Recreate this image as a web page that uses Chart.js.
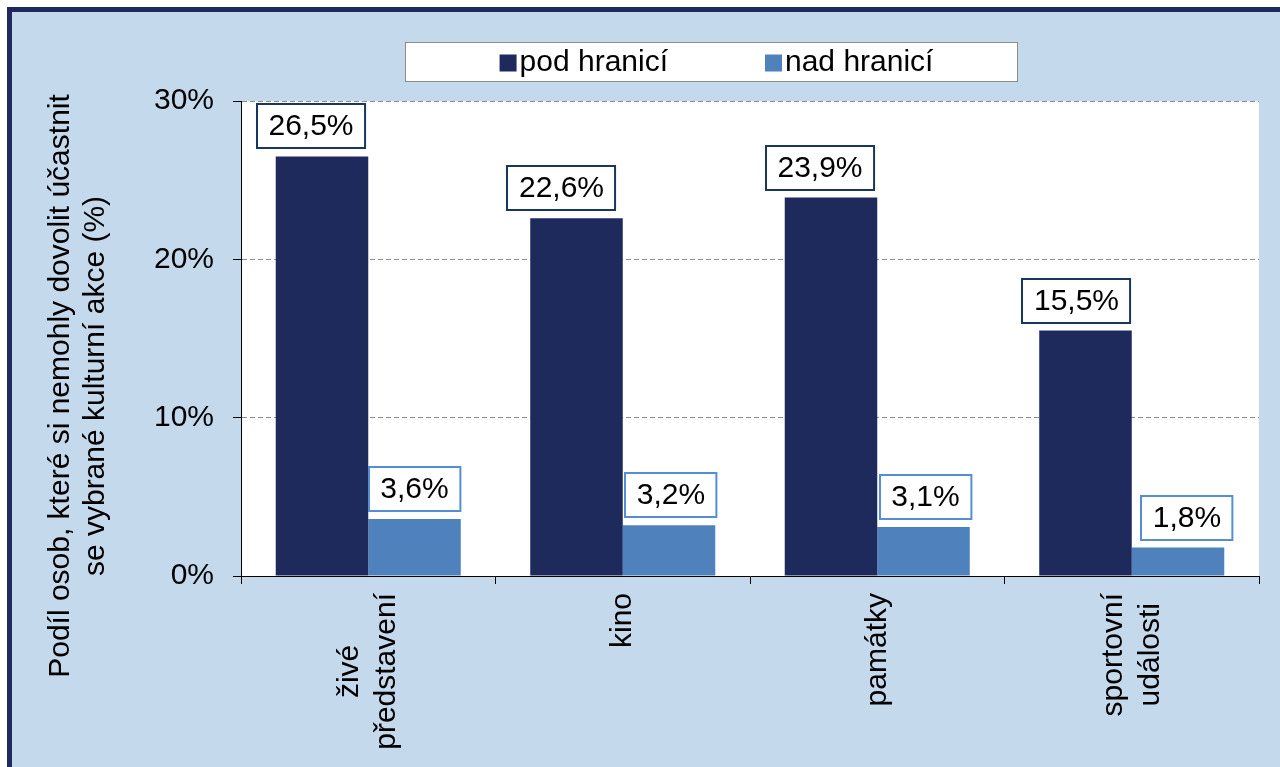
<!DOCTYPE html>
<html><head><meta charset="utf-8">
<script src="https://cdn.jsdelivr.net/npm/chart.js@4.4.1/dist/chart.umd.min.js"></script>
<style>
html,body{margin:0;padding:0;background:#fff;overflow:hidden;width:1280px;height:767px}
#frame{position:absolute;left:7px;top:7px;width:1400px;height:900px;border-left:5px solid #1F2A5C;border-top:5px solid #1F2A5C;background:#C5D9ED}
#c{position:absolute;left:0;top:0}
</style></head><body>
<div id="frame"></div>
<canvas id="c" width="1280" height="767"></canvas>
<script>
// ---- data ----
const categories = [["živé", "představení"], ["kino"], ["památky"], ["sportovní", "události"]];
const seriesNames = ["pod hranicí", "nad hranicí"];
const podHranici = [26.5, 22.6, 23.9, 15.5];
const nadHranici = [3.6, 3.2, 3.1, 1.8];
const yMin = 0, yMax = 30, yStep = 10;
const yTitle = ["Podíl osob, které si nemohly dovolit účastnit", "se vybrané kulturní akce (%)"];

const FONT = "'Liberation Sans', Arial, sans-serif";
const colors = ["#1F2A5C", "#4F81BD"];
const labelBorders = ["#17375E", "#558ED5"];

const fmt = v => v.toFixed(1).replace('.', ',') + '%';

const bgPlugin = {
  id: 'bg',
  beforeDraw(chart) {
    const {ctx, chartArea: a} = chart;
    ctx.save();
    ctx.fillStyle = '#fff';
    ctx.fillRect(a.left, a.top, a.right - a.left, a.bottom - a.top);
    ctx.restore();
  }
};

const xLabelPlugin = {
  id: 'xLabels',
  afterDraw(chart) {
    const {ctx} = chart;
    const xs = chart.scales.x;
    const lh = 37;
    ctx.save();
    ctx.font = '30px ' + FONT;
    ctx.fillStyle = '#000';
    ctx.textAlign = 'center';
    ctx.textBaseline = 'middle';
    chart.data.labels.forEach((lines, i) => {
      const x = xs.getPixelForTick(i);
      const maxW = Math.max(...lines.map(l => ctx.measureText(l).width));
      const yTop = xs.top + 17;
      ctx.save();
      ctx.translate(x, yTop + maxW / 2);
      ctx.rotate(-Math.PI / 2);
      lines.forEach((l, j) => {
        ctx.fillText(l, 0, (j - (lines.length - 1) / 2) * lh);
      });
      ctx.restore();
    });
    ctx.restore();
  }
};

const yTitlePlugin = {
  id: 'yTitle',
  afterDraw(chart) {
    const {ctx} = chart;
    ctx.save();
    ctx.font = '30px ' + FONT;
    ctx.fillStyle = '#000';
    ctx.textAlign = 'center';
    ctx.textBaseline = 'middle';
    ctx.translate(61, 386);
    ctx.rotate(-Math.PI / 2);
    yTitle.forEach((l, j) => ctx.fillText(l, 0, j * 35));
    ctx.restore();
  }
};

const legendPlugin = {
  id: 'boxLegend',
  afterDraw(chart) {
    const {ctx} = chart;
    const bx = 405, by = 42, bw = 613, bh = 40;
    ctx.save();
    ctx.fillStyle = '#fff';
    ctx.fillRect(bx, by, bw, bh);
    ctx.strokeStyle = '#8C8C8C';
    ctx.lineWidth = 1;
    ctx.strokeRect(bx + 0.5, by + 0.5, bw - 1, bh - 1);
    ctx.font = '30px ' + FONT;
    ctx.textBaseline = 'middle';
    ctx.textAlign = 'left';
    const ms = 17, mg = 3, gap = 97;
    const ws = chart.data.datasets.map(d => ctx.measureText(d.label).width);
    const total = ws.reduce((s, w) => s + ms + mg + w, 0) + gap * (ws.length - 1);
    let x = bx + bw / 2 + 5 - total / 2;
    const cy = by + bh / 2;
    chart.data.datasets.forEach((d, i) => {
      ctx.fillStyle = d.backgroundColor;
      ctx.fillRect(x, cy - ms / 2 + 1, ms, ms);
      ctx.fillStyle = '#000';
      ctx.fillText(d.label, x + ms + mg, cy + 1);
      x += ms + mg + ws[i] + gap;
    });
    ctx.restore();
  }
};

const dataLabelPlugin = {
  id: 'boxLabels',
  afterDatasetsDraw(chart) {
    const {ctx} = chart;
    const dxs = [[-11, -15, -11, -9], [0, 2, 2, 9]];
    ctx.save();
    ctx.font = '30px ' + FONT;
    ctx.textAlign = 'center';
    ctx.textBaseline = 'middle';
    chart.data.datasets.forEach((ds, d) => {
      const meta = chart.getDatasetMeta(d);
      meta.data.forEach((el, i) => {
        const t = fmt(ds.data[i]);
        const w = ctx.measureText(t).width + 23;
        const h = 44;
        const cx = el.x + dxs[d][i];
        const bottom = el.y - 8;
        const left = Math.round(cx - w / 2);
        const top = Math.round(bottom - h);
        ctx.fillStyle = '#fff';
        ctx.fillRect(left, top, w, h);
        ctx.strokeStyle = labelBorders[d];
        ctx.lineWidth = 2;
        ctx.strokeRect(left, top, w, h);
        ctx.fillStyle = '#000';
        ctx.fillText(t, cx, top + h / 2 + 1);
      });
    });
    ctx.restore();
  }
};

new Chart(document.getElementById('c'), {
  type: 'bar',
  data: {
    labels: categories,
    datasets: [
      {label: seriesNames[0], data: podHranici, backgroundColor: colors[0]},
      {label: seriesNames[1], data: nadHranici, backgroundColor: colors[1]}
    ]
  },
  options: {
    responsive: false,
    devicePixelRatio: 1,
    animation: false,
    layout: {padding: {left: 0, top: 101, right: 21, bottom: 0}},
    datasets: {bar: {categoryPercentage: 0.727, barPercentage: 1, borderWidth: 0}},
    plugins: {legend: {display: false}, tooltip: {enabled: false}, title: {display: false}},
    scales: {
      x: {
        ticks: {display: false},
        grid: {offset: true, drawOnChartArea: false, drawTicks: true, tickLength: 8, color: '#000', tickColor: '#000'},
        border: {display: true, color: '#000', width: 1},
        afterFit: s => { s.height = 191; }
      },
      y: {
        min: yMin, max: yMax,
        ticks: {stepSize: yStep, padding: 19, color: '#000', font: {size: 30, family: FONT}, callback: v => v + '%'},
        grid: {
          color: c => (c.tick && c.tick.value === 0) ? 'rgba(0,0,0,0)' : '#8C8C8C',
          tickColor: '#000', tickLength: 8, tickBorderDash: []
        },
        border: {display: true, color: '#000', width: 1, dash: [5, 3]},
        afterFit: s => { s.width = 241; }
      }
    }
  },
  plugins: [bgPlugin, dataLabelPlugin, xLabelPlugin, yTitlePlugin, legendPlugin]
});
</script>
</body></html>
